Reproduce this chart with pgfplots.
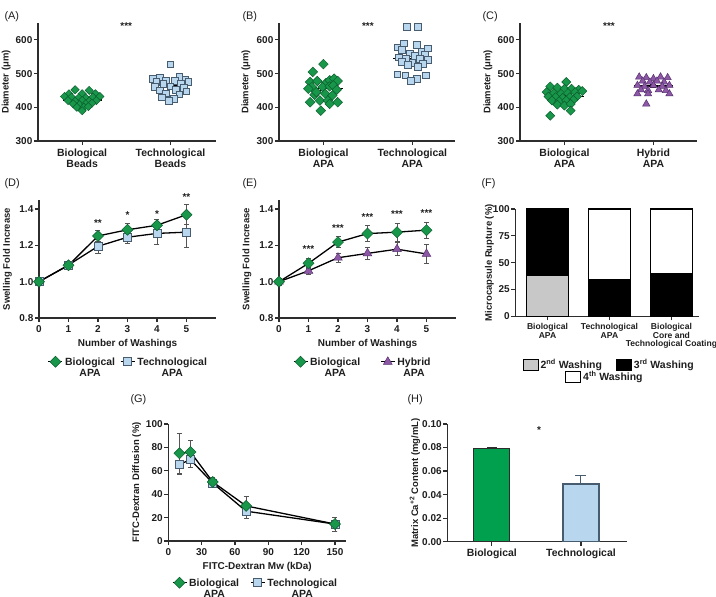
\documentclass[border=0pt]{standalone}
\usepackage{pgfplots}
\pgfplotsset{compat=1.18}
\usepackage{fontspec}
\setmainfont{Liberation Sans}

\definecolor{gfill}{RGB}{24,150,74}
\definecolor{gedge}{RGB}{10,95,45}
\definecolor{bfill}{RGB}{184,214,238}
\definecolor{bedge}{RGB}{72,92,112}
\definecolor{pfill}{RGB}{140,88,166}
\definecolor{pedge}{RGB}{88,50,112}
\definecolor{axisc}{RGB}{45,45,45}
\definecolor{txt}{RGB}{30,30,30}
\definecolor{errc}{RGB}{85,85,85}
\definecolor{hgreen}{RGB}{0,160,78}
\definecolor{fgray}{RGB}{200,200,200}

\newcommand{\tickfont}{\bfseries\fontsize{10}{11}\selectfont}
\newcommand{\labfont}{\bfseries\fontsize{9.5}{11}\selectfont}
\newcommand{\legfont}{\bfseries\fontsize{10.5}{11}\selectfont}
\newcommand{\catfont}{\bfseries\fontsize{10.5}{11}\selectfont}
\newcommand{\panfont}{\fontsize{11}{12}\selectfont}
\newcommand{\starfont}{\bfseries\fontsize{10}{11}\selectfont}
\newcommand{\two}[2]{\begin{tabular}[t]{@{}c@{}}#1\\#2\end{tabular}}

\pgfplotsset{
  panel/.style={
    scale only axis, axis lines=left,
    axis line style={-, line width=1.3bp, draw=axisc},
    tick align=outside, major tick length=4bp,
    major tick style={line width=1.2bp, draw=axisc},
    /pgf/number format/assume math mode=true,
    tick label style={font=\tickfont, text=txt},
    yticklabel style={inner xsep=1.5bp},
    xlabel style={font=\labfont, text=txt},
    every axis y label/.style={at={(rel axis cs:0,0.5)}, rotate=90,
      anchor=center, font=\labfont, text=txt, yshift=#1},
    clip=false,
  },
  panel/.default=32bp,
  diam/.style={mark=square*, mark options={rotate=45, fill=gfill, draw=gedge, line width=0.5bp, solid}},
  sq/.style={mark=square*, mark options={fill=bfill, draw=bedge, line width=0.6bp, solid}},
  tri/.style={mark=triangle*, mark options={fill=pfill, draw=pedge, line width=0.5bp, solid}},
  meanline/.style={black, line width=1.3bp, forget plot},
  sem/.style={black, line width=0.8bp, mark=none, forget plot,
    error bars/.cd, y dir=both, y explicit,
    error bar style={black, line width=0.8bp},
    error mark options={rotate=90, black, mark size=3bp, line width=0.8bp}},
  errs/.style={error bars/.cd, y dir=both, y explicit,
    error bar style={errc, line width=0.8bp},
    error mark options={rotate=90, errc, mark size=2.5bp, line width=0.8bp}},
  linelegend/.style={
    legend columns=2, reverse legend,
    legend style={draw=none, fill=none, font=\legfont, text=txt,
      cells={anchor=base west},
      /tikz/every even column/.append style={column sep=#1}},
    legend image code/.code={
      \draw[mark repeat=2, mark phase=2, ##1, yshift=3.5bp]
        plot coordinates {(0bp,0bp) (7bp,0bp) (14bp,0bp)};},
  },
  linelegend/.default=6bp,
}

\begin{document}
\begin{tikzpicture}
\useasboundingbox (0,0) rectangle (716bp,-597bp);

% ---------------- (A) bead diameters ----------------
\begin{axis}[panel=31.7bp, at={(38bp,-141bp)}, anchor=south west,
  width=178bp, height=118bp,
  xmin=-0.5, xmax=1.516, ymin=300, ymax=650,
  ytick={300,400,500,600}, xtick={0,1},
  xticklabels={{Biological\\Beads},{Technological\\Beads}},
  xticklabel style={align=center, font=\catfont},
  ylabel={Diameter (μm)}]
\addplot[only marks, diam, mark size=2.9bp] table[x=dx, y=v] {
dx v
-0.15 440
-0.08 452
0.00 440
0.08 450
0.15 440
-0.20 432
-0.12 430
-0.04 428
0.04 428
0.12 430
0.20 432
-0.16 420
-0.08 418
0.00 420
0.08 418
0.16 420
-0.10 410
-0.03 408
0.04 410
0.11 412
-0.06 400
0.02 400
0.07 402
0.00 390
};
\addplot[only marks, sq, mark size=3.3bp] table[x expr=\thisrow{dx}+1, y=v] {
dx v
0.00 528
-0.20 485
-0.12 488
-0.05 480
0.10 490
0.17 482
0.05 478
-0.16 475
0.20 475
-0.08 470
0.12 470
-0.18 460
0.00 462
0.15 458
-0.12 450
0.06 452
0.18 448
-0.05 442
0.10 438
-0.10 430
0.04 425
-0.02 420
};
\addplot[meanline] coordinates {(-0.22,422) (0.22,422)};
\addplot[meanline] coordinates {(0.78,465) (1.22,465)};
\addplot[sem] coordinates {(0,422) +- (0,4)};
\addplot[sem] coordinates {(1,465) +- (0,6)};
\node[font=\starfont, text=txt] at (axis cs:0.5,642) {***};
\end{axis}

% ---------------- (B) APA diameters ----------------
\begin{axis}[panel=33bp, at={(279bp,-141bp)}, anchor=south west,
  width=176bp, height=118bp,
  xmin=-0.5, xmax=1.48, ymin=300, ymax=650,
  ytick={300,400,500,600}, xtick={0,1},
  xticklabels={{Biological\\APA},{Technological\\APA}},
  xticklabel style={align=center, font=\catfont},
  ylabel={Diameter (μm)}]
\addplot[only marks, diam, mark size=3.4bp] table[x=dx, y=v] {
dx v
0.00 528
-0.12 505
-0.15 475
-0.07 478
0.03 472
0.07 480
0.12 485
0.16 478
-0.13 460
-0.01 460
0.07 462
0.11 465
-0.17 455
0.15 452
-0.10 437
0.02 440
0.10 435
-0.15 415
-0.04 420
0.05 420
0.16 415
-0.03 390
0.07 410
-0.08 445
};
\addplot[only marks, sq, mark size=3.4bp] table[x expr=\thisrow{dx}+1, y=v] {
dx v
-0.06 638
0.06 638
-0.10 590
0.05 585
-0.17 578
0.17 575
-0.12 570
0.10 565
-0.03 560
0.14 555
0.03 552
-0.15 548
-0.07 545
0.08 545
0.17 542
-0.12 535
0.00 532
0.12 530
-0.05 525
0.06 520
-0.17 498
-0.08 495
0.15 495
0.05 485
-0.02 478
};
\addplot[meanline] coordinates {(-0.22,456) (0.22,456)};
\addplot[meanline] coordinates {(0.78,545) (1.22,545)};
\addplot[sem] coordinates {(0,456) +- (0,6)};
\addplot[sem] coordinates {(1,545) +- (0,8)};
\node[font=\starfont, text=txt] at (axis cs:0.5,642) {***};
\end{axis}

% ---------------- (C) biological vs hybrid ----------------
\begin{axis}[panel=32bp, at={(520bp,-141bp)}, anchor=south west,
  width=177bp, height=118bp,
  xmin=-0.5, xmax=1.49, ymin=300, ymax=650,
  ytick={300,400,500,600}, xtick={0,1},
  xticklabels={{Biological\\APA},{Hybrid\\APA}},
  xticklabel style={align=center, font=\catfont},
  ylabel={Diameter (μm)}]
\addplot[only marks, diam, mark size=3.2bp] table[x=dx, y=v] {
dx v
0.02 475
-0.16 462
-0.08 458
0.00 455
0.08 455
0.16 452
-0.20 445
-0.12 442
-0.04 440
0.04 442
0.12 445
0.20 448
-0.18 432
-0.10 430
-0.02 428
0.06 430
0.14 432
-0.14 420
-0.06 418
0.02 420
0.10 422
-0.08 408
0.00 405
0.07 410
0.07 390
-0.16 375
};
\addplot[only marks, tri, mark size=4.2bp] table[x expr=\thisrow{dx}+1, y=v] {
dx v
-0.16 490
-0.08 488
0.00 485
0.08 490
0.16 488
-0.12 478
-0.04 475
0.04 478
0.12 475
-0.18 465
-0.10 462
0.00 465
0.10 462
0.18 465
-0.14 452
-0.06 450
0.06 452
0.14 450
-0.18 440
-0.06 440
0.18 440
-0.08 410
};
\addplot[meanline] coordinates {(-0.22,431) (0.22,431)};
\addplot[meanline] coordinates {(0.78,463) (1.22,463)};
\addplot[sem] coordinates {(0,431) +- (0,4)};
\addplot[sem] coordinates {(1,463) +- (0,4)};
\node[font=\starfont, text=txt] at (axis cs:0.5,642) {***};
\end{axis}

% ---------------- (D) swelling, biological vs technological ----------------
\begin{axis}[panel=31.5bp, linelegend=3bp, at={(39bp,-318bp)}, anchor=south west,
  width=177bp, height=118bp,
  xmin=0, xmax=6, ymin=0.8, ymax=1.45,
  xtick={0,1,2,3,4,5}, ytick={0.8,1.0,1.2,1.4},
  yticklabel style={/pgf/number format/.cd, fixed, fixed zerofill, precision=1},
  xlabel={Number of Washings}, ylabel={Swelling Fold Increase},
  xlabel style={font=\bfseries\fontsize{10}{11}\selectfont},
  legend style={at={(0.505,-0.30)}, anchor=north}]
\addplot[black, line width=1.3bp, sq, mark size=4bp, errs] table[x=w, y=f, y error=e] {
w f e
0 1.000 0.010
1 1.092 0.020
2 1.195 0.040
3 1.245 0.035
4 1.266 0.060
5 1.273 0.083
};
\addlegendentry{\two{Technological}{APA}}
\addplot[black, line width=1.3bp, diam, mark size=3.9bp, errs] table[x=w, y=f, y error=e] {
w f e
0 1.000 0.010
1 1.090 0.015
2 1.252 0.030
3 1.286 0.035
4 1.311 0.030
5 1.369 0.055
};
\addlegendentry{\two{Biological}{APA}}
\node[font=\starfont, text=txt] at (axis cs:2,1.322) {**};
\node[font=\starfont, text=txt] at (axis cs:3,1.365) {*};
\node[font=\starfont, text=txt] at (axis cs:4,1.375) {*};
\node[font=\starfont, text=txt] at (axis cs:5,1.466) {**};
\end{axis}

% ---------------- (E) swelling, biological vs hybrid ----------------
\begin{axis}[panel=32bp, linelegend=18bp, at={(279bp,-318bp)}, anchor=south west,
  width=177bp, height=118bp,
  xmin=0, xmax=6, ymin=0.8, ymax=1.45,
  xtick={0,1,2,3,4,5}, ytick={0.8,1.0,1.2,1.4},
  yticklabel style={/pgf/number format/.cd, fixed, fixed zerofill, precision=1},
  xlabel={Number of Washings}, ylabel={Swelling Fold Increase},
  xlabel style={font=\bfseries\fontsize{10}{11}\selectfont},
  legend style={at={(0.473,-0.30)}, anchor=north}]
\addplot[black, line width=1.3bp, tri, mark size=5bp, errs] table[x=w, y=f, y error=e] {
w f e
0 1.000 0.020
1 1.060 0.018
2 1.132 0.025
3 1.156 0.035
4 1.179 0.035
5 1.153 0.050
};
\addlegendentry{\two{Hybrid}{APA}}
\addplot[black, line width=1.3bp, diam, mark size=3.9bp, errs] table[x=w, y=f, y error=e] {
w f e
0 1.000 0.020
1 1.101 0.025
2 1.218 0.030
3 1.265 0.045
4 1.273 0.050
5 1.284 0.045
};
\addlegendentry{\two{Biological}{APA}}
\node[font=\starfont, text=txt] at (axis cs:1,1.178) {***};
\node[font=\starfont, text=txt] at (axis cs:2,1.294) {***};
\node[font=\starfont, text=txt] at (axis cs:3,1.355) {***};
\node[font=\starfont, text=txt] at (axis cs:4,1.373) {***};
\node[font=\starfont, text=txt] at (axis cs:5,1.380) {***};
\end{axis}

% ---------------- (F) microcapsule rupture ----------------
\begin{axis}[panel=26bp, at={(515.3bp,-316.3bp)}, anchor=south west,
  width=184bp, height=107.3bp,
  xmin=-0.52, xmax=2.45, ymin=0, ymax=100,
  ybar stacked, bar width=42bp,
  xtick={0,1,2}, ytick={0,25,50,75,100},
  xticklabels={{Biological\\APA},{Technological\\APA},{Biological\\Core and\\Technological Coating}},
  xticklabel style={align=center, font=\bfseries\fontsize{8.6}{9}\selectfont, yshift=1bp},
  ylabel={Microcapsule Rupture (\%)},
  legend columns=2,
  legend style={at={(0.51,-0.36)}, anchor=north, draw=none, fill=none,
    font=\legfont, text=txt, cells={anchor=base west},
    /tikz/every even column/.append style={column sep=12bp}},
  legend image code/.code={\draw[#1, line width=1bp] (0bp,-2bp) rectangle (15bp,9bp);}]
\addplot[fill=fgray, draw=black, line width=1.2bp] coordinates {(0,38.5) (1,0) (2,0)};
\addlegendentry{2\textsuperscript{nd} Washing}
\addplot[fill=black, draw=black, line width=1.2bp] coordinates {(0,61.5) (1,33.8) (2,39.4)};
\addlegendentry{3\textsuperscript{rd} Washing}
\addplot[fill=white, draw=black, line width=1.2bp, forget plot] coordinates {(0,0) (1,66.2) (2,60.6)};
\end{axis}
% second legend row of (F)
\begin{axis}[at={(515.3bp,-316.3bp)}, anchor=south west, scale only axis,
  width=184bp, height=107.3bp, hide axis,
  xmin=-0.52, xmax=2.45, ymin=0, ymax=100,
  legend style={at={(0.487,-0.47)}, anchor=north, draw=none, fill=none,
    font=\legfont, text=txt, cells={anchor=base west}},
  legend image code/.code={\draw[#1, line width=1bp] (0bp,-2bp) rectangle (15bp,9bp);}]
\addlegendimage{fill=white, draw=black}
\addlegendentry{4\textsuperscript{th} Washing}
\end{axis}

% ---------------- (G) FITC-dextran diffusion ----------------
\begin{axis}[panel=31.6bp, linelegend=9bp, at={(168.3bp,-541bp)}, anchor=south west,
  width=177.8bp, height=117bp,
  xmin=0, xmax=160, ymin=0, ymax=100,
  xtick={0,30,60,90,120,150}, ytick={0,20,40,60,80,100},
  xlabel={FITC-Dextran Mw (kDa)}, ylabel={FITC-Dextran Diffusion (\%)},
  xlabel style={font=\bfseries\fontsize{10}{11}\selectfont},
  legend style={at={(0.49,-0.285)}, anchor=north}]
\addplot[black, line width=1.3bp, sq, mark size=4bp, errs] table[x=mw, y=d, y error=e] {
mw d e
10 65.5 8.5
20 69.5 7.0
40 49.5 3.0
70 25.5 6.0
150 14.5 6.0
};
\addlegendentry{\two{Technological}{APA}}
\addplot[black, line width=1.3bp, diam, mark size=3.9bp, errs] table[x=mw, y=d, y error=e] {
mw d e
10 75.0 17.0
20 76.0 10.0
40 50.5 4.0
70 30.0 8.5
150 14.5 6.0
};
\addlegendentry{\two{Biological}{APA}}
\end{axis}

% ---------------- (H) matrix calcium content ----------------
\begin{axis}[panel=32.3bp, at={(447.3bp,-541.7bp)}, anchor=south west,
  width=180bp, height=117.7bp,
  xmin=-0.5, xmax=1.52, ymin=0, ymax=0.1,
  xtick={0,1}, xticklabels={Biological,Technological},
  xticklabel style={font=\catfont},
  ytick={0,0.02,0.04,0.06,0.08,0.1},
  yticklabel style={/pgf/number format/.cd, fixed, fixed zerofill, precision=2},
  ylabel={Matrix Ca\textsuperscript{+2} Content (mg/mL)}]
\addplot[ybar, bar width=36bp, bar shift=0pt, fill=hgreen, draw=axisc, line width=1.1bp,
  error bars/.cd, y dir=plus, y explicit,
  error bar style={axisc, line width=1bp},
  error mark options={rotate=90, axisc, mark size=5bp, line width=1bp}]
  coordinates {(0,0.0790) +- (0,0.0010)};
\addplot[ybar, bar width=36bp, bar shift=0pt, fill=bfill, draw=bedge, line width=1.1bp,
  error bars/.cd, y dir=plus, y explicit,
  error bar style={bedge, line width=1bp},
  error mark options={rotate=90, bedge, mark size=5.5bp, line width=1bp}]
  coordinates {(1,0.0490) +- (0,0.0070)};
\node[font=\starfont, text=txt] at (axis cs:0.53,0.0945) {*};
\end{axis}

% panel letters
\node[anchor=west, font=\panfont, text=txt] at (1bp,-17bp) {(A)};
\node[anchor=west, font=\panfont, text=txt] at (239bp,-17bp) {(B)};
\node[anchor=west, font=\panfont, text=txt] at (479bp,-17bp) {(C)};
\node[anchor=west, font=\panfont, text=txt] at (1bp,-184bp) {(D)};
\node[anchor=west, font=\panfont, text=txt] at (239bp,-184bp) {(E)};
\node[anchor=west, font=\panfont, text=txt] at (478bp,-184bp) {(F)};
\node[anchor=west, font=\panfont, text=txt] at (127bp,-400bp) {(G)};
\node[anchor=west, font=\panfont, text=txt] at (404bp,-400bp) {(H)};
\end{tikzpicture}
\end{document}
